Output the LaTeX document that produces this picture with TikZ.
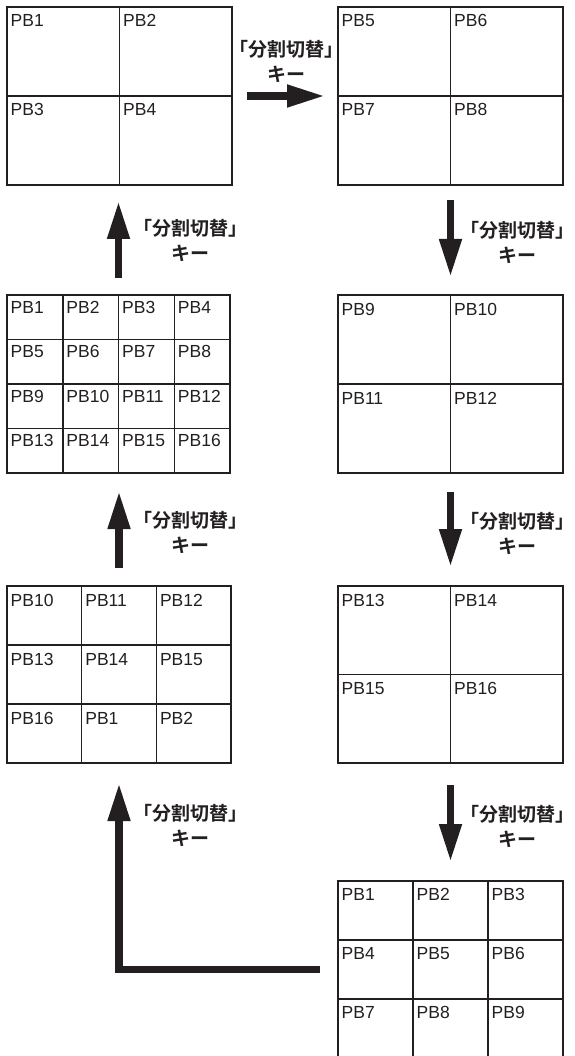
\documentclass[tikz,border=0pt]{standalone}
\usepackage{fontspec}
\setmainfont{Liberation Sans}
\newfontfamily\cjk{Noto Sans CJK JP}[BoldFont={Noto Sans CJK JP Bold}]
\usetikzlibrary{arrows.meta,calc}
\definecolor{ink}{HTML}{231F20}
% name, x, y, w, h, cols, rows
\newcommand\pbgrid[7]{%
  \node[grid,minimum width=#4pt,minimum height=#5pt] (#1) at (#2,#3) {};
  \pgfmathtruncatemacro\ncm{#6-1}
  \pgfmathtruncatemacro\nrm{#7-1}
  \foreach \i in {1,...,\ncm}{\draw[gridline] ({#2+\i*#4/#6},#3) -- ({#2+\i*#4/#6},{#3+#5});}
  \foreach \i in {1,...,\nrm}{\draw[gridline] (#2,{#3+\i*#5/#7}) -- ({#2+#4},{#3+\i*#5/#7});}
}
% name, x, y, w, h, cols, rows, labels, baseline offset
\newcommand\pbcells[9]{%
  \foreach \t [count=\k from 0] in {#8}{%
    \pgfmathtruncatemacro\cc{mod(\k,#6)}
    \pgfmathtruncatemacro\rr{div(\k,#6)}
    \node[pb] (#1-\k) at ({#2+\cc*#4/#6+3.5},{#3+\rr*#5/#7+#9}) {\t};
  }
}
\begin{document}
\begin{tikzpicture}[x=1pt,y=-1pt,
  grid/.style={draw=ink,line width=1.5pt,inner sep=0pt,outer sep=0pt,anchor=north west},
  gridline/.style={draw=ink,line width=1.5pt},
  pb/.style={anchor=base west,inner sep=0pt,font=\fontsize{17.5}{19}\selectfont,text=ink},
  key/.style={font=\cjk\bfseries\fontsize{19}{25}\selectfont,align=center,text=ink,inner sep=0pt},
  flow/.style={draw=ink,line width=7.5pt,-{Triangle[length=38pt,width=21pt]}}]
\useasboundingbox (0,0) rectangle (574,1056);
\clip (0,0) rectangle (574,1056);

% grids
\pbgrid{A}{7}{7}{225}{178}{2}{2}
\pbcells{A}{7}{7}{225}{178}{2}{2}{PB1,PB2,PB3,PB4}{20}
\pbgrid{B}{338}{7}{225}{178}{2}{2}
\pbcells{B}{338}{7}{225}{178}{2}{2}{PB5,PB6,PB7,PB8}{20}
\pbgrid{C}{338}{295}{225}{178}{2}{2}
\pbcells{C}{338}{295}{225}{178}{2}{2}{PB9,PB10,PB11,PB12}{20}
\pbgrid{D}{338}{586}{225}{177}{2}{2}
\pbcells{D}{338}{586}{225}{177}{2}{2}{PB13,PB14,PB15,PB16}{20}
\pbgrid{E}{338}{881}{225}{177}{3}{3}
\pbcells{E}{338}{881}{225}{177}{3}{3}{PB1,PB2,PB3,PB4,PB5,PB6,PB7,PB8,PB9}{19}
\pbgrid{F}{7}{295}{223}{178}{4}{4}
\pbcells{F}{7}{295}{223}{178}{4}{4}{PB1,PB2,PB3,PB4,PB5,PB6,PB7,PB8,PB9,PB10,PB11,PB12,PB13,PB14,PB15,PB16}{18}
\pbgrid{G}{7}{586}{224}{177}{3}{3}
\pbcells{G}{7}{586}{224}{177}{3}{3}{PB10,PB11,PB12,PB13,PB14,PB15,PB16,PB1,PB2}{20}

% arrows
\draw[flow,shorten <=15pt,shorten >=13pt] (A.east) -- (B.west);
\draw[flow,shorten <=15pt,shorten >=18pt] (B.south) -- (C.north);
\draw[flow,shorten <=19pt,shorten >=19pt] (C.south) -- (D.north);
\draw[flow,shorten <=22pt,shorten >=19pt] (D.south) -- (E.north);
\draw[flow,shorten <=18pt,shorten >=20pt,line join=miter] (E.west) -| (G.south);
\draw[flow,shorten <=18pt,shorten >=18pt] (G.north) -- (G.north |- F.south);
\draw[flow,shorten <=17pt,shorten >=16pt] (F.north) -- (F.north |- A.south);

% labels
\node[key] (kAB) at (286,61) {「分割切替」\\キー};
\node[key] (kBC) at (517,242) {「分割切替」\\キー};
\node[key] (kCD) at (517,533) {「分割切替」\\キー};
\node[key] (kDE) at (517,826) {「分割切替」\\キー};
\node[key] (kEG) at (190,825) {「分割切替」\\キー};
\node[key] (kGF) at (190,532) {「分割切替」\\キー};
\node[key] (kFA) at (190,240) {「分割切替」\\キー};
\end{tikzpicture}
\end{document}
